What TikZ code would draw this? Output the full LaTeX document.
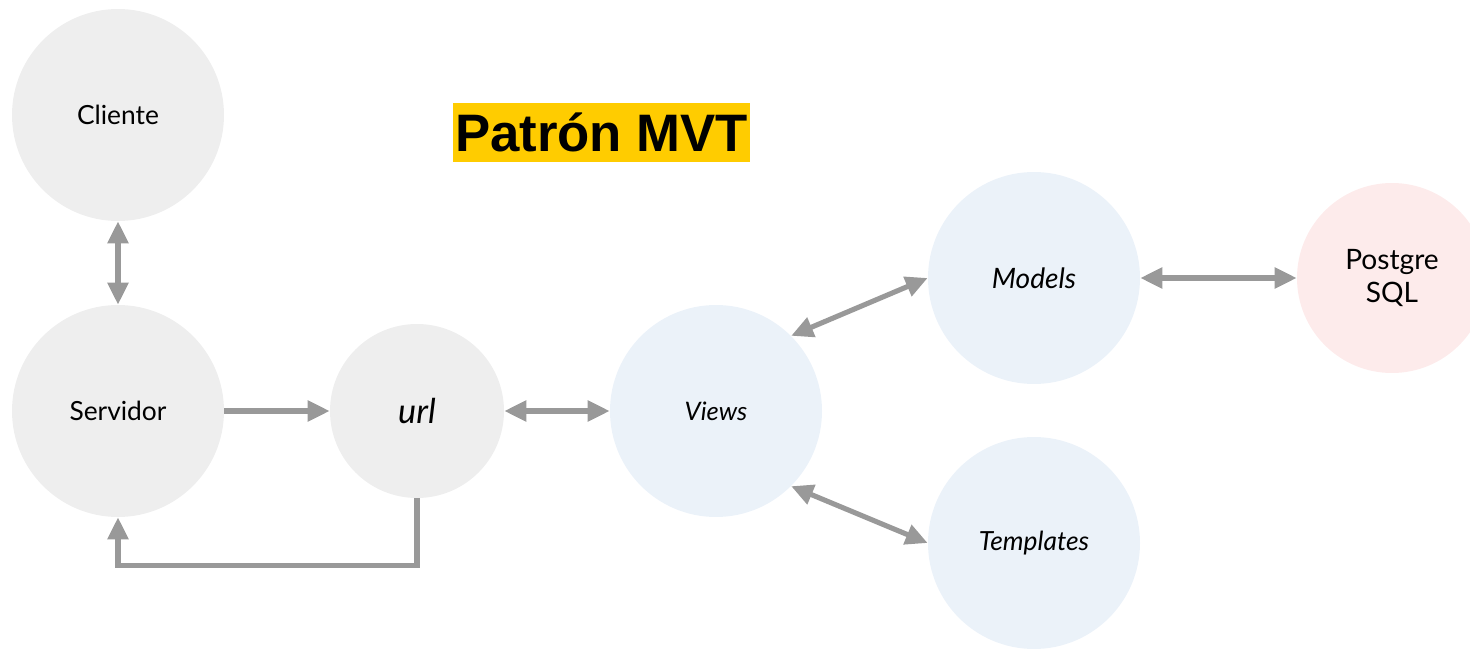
\documentclass[tikz,border=0pt]{standalone}
\usepackage{fontspec}
\setmainfont{Lato}
\newfontfamily\titlefont{Liberation Sans}
\usetikzlibrary{arrows.meta}
\definecolor{nodegray}{HTML}{EEEEEE}
\definecolor{nodeblue}{HTML}{EBF2F9}
\definecolor{nodepink}{HTML}{FDEBEB}
\definecolor{linegray}{HTML}{999999}
\definecolor{titleyellow}{HTML}{FFCC00}

\begin{document}
\begin{tikzpicture}[
    >={Triangle[length=12.5pt,width=11.5pt]},
    bubble/.style={circle, fill=#1, minimum size=4.24cm, inner sep=0pt, font=\fontsize{15}{18}\selectfont, align=center},
    link/.style={draw=linegray, line width=2.9pt}
  ]
    \useasboundingbox (0,0) rectangle (29.4,12.98);
    \begin{scope}
      \clip (0,0) rectangle (29.4,12.98);
      \node[bubble=nodepink, minimum size=3.8cm, font=\fontsize{16}{19}\selectfont] (v7) at (27.84,7.42) {Postgre\\SQL};
    \end{scope}
    \node[bubble=nodegray] (v1) at (2.36,10.68) {Cliente};
    \node[bubble=nodegray] (v2) at (2.36,4.76) {Servidor};
    \node[bubble=nodegray, minimum size=3.48cm, font=\fontsize{19.5}{23}\selectfont\itshape] (v3) at (8.34,4.76) {url};
    \node[bubble=nodeblue, font=\fontsize{14.5}{17}\selectfont\itshape] (v4) at (14.32,4.76) {Views};
    \node[bubble=nodeblue, font=\fontsize{16}{19}\selectfont\itshape] (v5) at (20.68,7.42) {Models};
    \node[bubble=nodeblue, font=\fontsize{15}{18}\selectfont\itshape] (v6) at (20.68,2.12) {Templates};
    \node[fill=titleyellow, minimum width=5.94cm, minimum height=1.18cm, inner sep=0pt,
      font=\titlefont\bfseries\fontsize{30}{34}\selectfont] (t) at (12.03,10.33) {Patrón MVT};
    \draw[link,<->] (v1) -- (v2);
    \draw[link,->] (v2) -- (v3);
    \draw[link,->] (v3.south) -- ++(0,-1.34) -| (v2.south);
    \draw[link,<->] (v3) -- (v4);
    \draw[link,<->] (v4.45) -- (v5.west);
    \draw[link,<->] (v4.-45) -- (v6.west);
    \draw[link,<->] (v5) -- (v7);
  \end{tikzpicture}
\end{document}
